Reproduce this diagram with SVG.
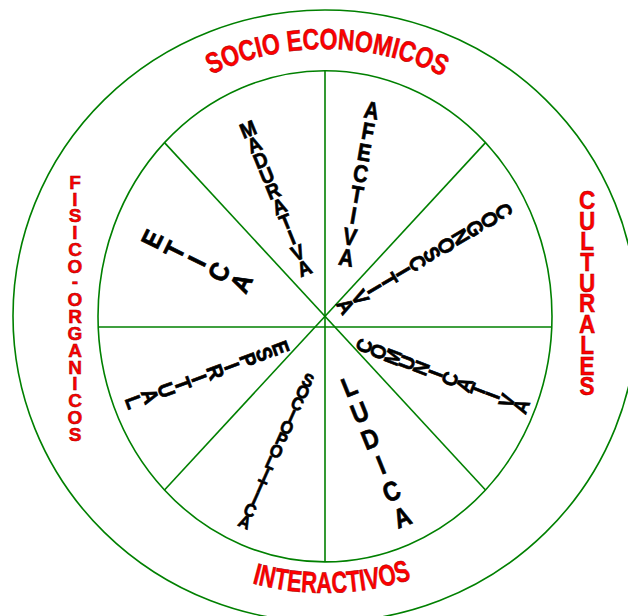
<svg xmlns="http://www.w3.org/2000/svg" width="628" height="616" viewBox="0 0 628 616">
<style>
.ln{fill:none;stroke:#008000;stroke-width:1.6}
.rd{font-family:"Liberation Sans",Arial,sans-serif;font-weight:bold;fill:#ff0000;stroke:#a00000;stroke-width:0.5}
.mid{text-anchor:middle}
.bk{font-family:"Liberation Sans",Arial,sans-serif;font-weight:bold;fill:#000;stroke:#000;stroke-width:0.7;text-anchor:middle}
</style>
<defs>
<path id="arcTop" d="M 58 316 A 267 267 0 0 1 592 316"/>
<path id="arcBot" d="M 48 316 A 277 277 0 0 0 602 316"/>
</defs>
<rect width="628" height="616" fill="#fff"/>
<g id="rings">
<ellipse class="ln" cx="325" cy="316" rx="312" ry="306"/>
<ellipse class="ln" cx="325" cy="316.3" rx="227" ry="245.6"/>
</g>
<g id="connectors">
<line class="ln" x1="325" y1="70.7" x2="325" y2="562"/>
<line class="ln" x1="98.3" y1="327" x2="551.7" y2="327"/>
<line class="ln" x1="164.5" y1="142.6" x2="485.5" y2="490"/>
<line class="ln" x1="485.5" y1="142.6" x2="164.5" y2="490"/>
</g>
<g id="socio-economicos">
<text class="rd mid" font-size="29"><textPath href="#arcTop" startOffset="421.4" textLength="240" lengthAdjust="spacingAndGlyphs">SOCIO ECONOMICOS</textPath></text>
</g>
<g id="interactivos">
<text class="rd mid" font-size="30"><textPath href="#arcBot" startOffset="442" textLength="162" lengthAdjust="spacingAndGlyphs">INTERACTIVOS</textPath></text>
</g>
<g id="fisico-organicos">
<text class="rd mid" font-size="19"><tspan x="75" y="188.7">F</tspan><tspan x="75" y="205.5">I</tspan><tspan x="75" y="222.3">S</tspan><tspan x="75" y="239.1">I</tspan><tspan x="75" y="255.9">C</tspan><tspan x="75" y="272.7">O</tspan><tspan x="75" y="287.5">-</tspan><tspan x="75" y="306.3">O</tspan><tspan x="75" y="323.1">R</tspan><tspan x="75" y="339.9">G</tspan><tspan x="75" y="356.7">A</tspan><tspan x="75" y="373.5">N</tspan><tspan x="75" y="390.3">I</tspan><tspan x="75" y="407.1">C</tspan><tspan x="75" y="423.9">O</tspan><tspan x="75" y="440.7">S</tspan></text>
</g>
<g id="culturales" transform="translate(587 0) scale(0.9 1)">
<text class="rd mid" font-size="25"><tspan x="0" y="209">C</tspan><tspan x="0" y="229.7">U</tspan><tspan x="0" y="250.4">L</tspan><tspan x="0" y="271.1">T</tspan><tspan x="0" y="291.8">U</tspan><tspan x="0" y="312.5">R</tspan><tspan x="0" y="333.2">A</tspan><tspan x="0" y="353.9">L</tspan><tspan x="0" y="374.6">E</tspan><tspan x="0" y="395.3">S</tspan></text>
</g>
<g id="madurativa" transform="translate(248 129) rotate(-22)">
<text class="bk" font-size="21" transform="scale(0.9 1)"><tspan x="0" y="7.5">M</tspan><tspan x="0" y="24.15">A</tspan><tspan x="0" y="40.8">D</tspan><tspan x="0" y="57.45">U</tspan><tspan x="0" y="74.1">R</tspan><tspan x="0" y="90.75">A</tspan><tspan x="0" y="107.4">T</tspan><tspan x="0" y="124.05">I</tspan><tspan x="0" y="140.7">V</tspan><tspan x="0" y="157.35">A</tspan></text>
</g>
<g id="afectiva" transform="translate(371.6 110) rotate(9.7)">
<text class="bk" font-size="24" transform="scale(0.85 1)"><tspan x="0" y="8.6">A</tspan><tspan x="0" y="29.96">F</tspan><tspan x="0" y="51.32">E</tspan><tspan x="0" y="72.68">C</tspan><tspan x="0" y="94.04">T</tspan><tspan x="0" y="115.4">I</tspan><tspan x="0" y="136.76">V</tspan><tspan x="0" y="158.12">A</tspan></text>
</g>
<g id="cognoscitiva" transform="translate(504 211) rotate(59)">
<text class="bk" font-size="22" transform="scale(0.9 1)"><tspan x="0" y="7.9">C</tspan><tspan x="0" y="24.66">O</tspan><tspan x="0" y="41.42">G</tspan><tspan x="0" y="58.18">N</tspan><tspan x="0" y="74.94">O</tspan><tspan x="0" y="91.7">S</tspan><tspan x="0" y="108.46">C</tspan><tspan x="0" y="125.22">I</tspan><tspan x="0" y="141.98">T</tspan><tspan x="0" y="158.74">I</tspan><tspan x="0" y="175.5">V</tspan><tspan x="0" y="192.26">A</tspan></text>
</g>
<g id="etica" transform="translate(152 239) rotate(-63.7)">
<text class="bk" font-size="27" transform="scale(0.9 1)"><tspan x="0" y="9.7">E</tspan><tspan x="0" y="34.5">T</tspan><tspan x="0" y="59.3">I</tspan><tspan x="0" y="84.1">C</tspan><tspan x="0" y="108.9">A</tspan></text>
</g>
<g id="comunicativa" transform="translate(364 346) rotate(-69)">
<text class="bk" font-size="21" transform="scale(0.9 1)"><tspan x="0" y="7.5">C</tspan><tspan x="0" y="22.78">O</tspan><tspan x="0" y="38.06">M</tspan><tspan x="0" y="53.34">U</tspan><tspan x="0" y="68.62">N</tspan><tspan x="0" y="83.9">I</tspan><tspan x="0" y="99.18">C</tspan><tspan x="0" y="114.46">A</tspan><tspan x="0" y="129.74">T</tspan><tspan x="0" y="145.02">I</tspan><tspan x="0" y="160.3">V</tspan><tspan x="0" y="175.58">A</tspan></text>
</g>
<g id="ludica" transform="translate(349 386) rotate(-22)">
<text class="bk" font-size="27" transform="scale(0.85 1)"><tspan x="0" y="9.7">L</tspan><tspan x="0" y="37.96">U</tspan><tspan x="0" y="66.22">D</tspan><tspan x="0" y="94.48">I</tspan><tspan x="0" y="122.74">C</tspan><tspan x="0" y="151">A</tspan></text>
</g>
<g id="sociopolitica" transform="translate(308 380) rotate(24)">
<text class="bk" font-size="18" transform="scale(0.9 1)"><tspan x="0" y="6.4">S</tspan><tspan x="0" y="19.34">O</tspan><tspan x="0" y="32.28">C</tspan><tspan x="0" y="45.22">I</tspan><tspan x="0" y="58.16">O</tspan><tspan x="0" y="71.1">P</tspan><tspan x="0" y="84.04">O</tspan><tspan x="0" y="96.98">L</tspan><tspan x="0" y="109.92">I</tspan><tspan x="0" y="122.86">T</tspan><tspan x="0" y="135.8">I</tspan><tspan x="0" y="148.74">C</tspan><tspan x="0" y="161.68">A</tspan></text>
</g>
<g id="espiritual" transform="translate(281 348) rotate(69.8)">
<text class="bk" font-size="22" transform="scale(0.9 1)"><tspan x="0" y="7.9">E</tspan><tspan x="0" y="25.3">S</tspan><tspan x="0" y="42.7">P</tspan><tspan x="0" y="60.1">I</tspan><tspan x="0" y="77.5">R</tspan><tspan x="0" y="94.9">I</tspan><tspan x="0" y="112.3">T</tspan><tspan x="0" y="129.7">U</tspan><tspan x="0" y="147.1">A</tspan><tspan x="0" y="164.5">L</tspan></text>
</g>
</svg>
